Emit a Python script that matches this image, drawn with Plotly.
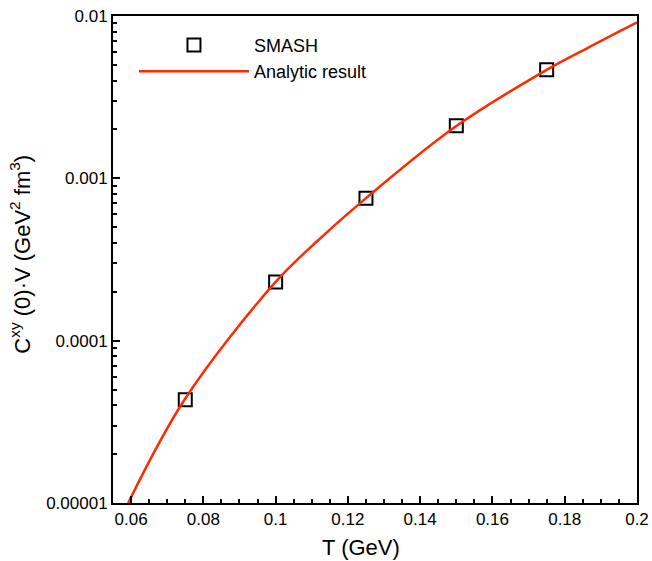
import plotly.graph_objects as go

# SMASH data
smash_T = [0.075, 0.1, 0.125, 0.15, 0.175]
smash_C = [4.32e-5, 2.30e-4, 7.55e-4, 2.11e-3, 4.66e-3]

# Analytic result curve
curve_T = [0.0592, 0.075, 0.1, 0.1114, 0.125, 0.15, 0.175, 0.1864, 0.2]
curve_C = [1.0e-5, 4.40e-5, 2.30e-4, 4.08e-4, 7.55e-4, 2.10e-3, 4.66e-3, 6.37e-3, 9.14e-3]

# Tick labels
x_ticks = [0.06, 0.08, 0.1, 0.12, 0.14, 0.16, 0.18, 0.2]
x_ticktext = ["0.06", "0.08", "0.1", "0.12", "0.14", "0.16", "0.18", "0.2"]
y_ticks = [1e-5, 1e-4, 1e-3, 1e-2]
y_ticktext = ["0.00001", "0.0001", "0.001", "0.01"]

x_title = "T (GeV)"
y_title = "C<sup>xy</sup> (0)·V (GeV<sup>2</sup> fm<sup>3</sup>)"

FONT = "Liberation Sans, Arial, Helvetica, sans-serif"

fig = go.Figure()
fig.add_trace(go.Scatter(
    x=smash_T, y=smash_C, mode="markers", name="SMASH",
    marker=dict(symbol="square-open", size=13, color="black", line=dict(width=2, color="black")),
))
fig.add_trace(go.Scatter(
    x=curve_T, y=curve_C, mode="lines", name="Analytic result",
    line=dict(color="#ff2a00", width=2.5, shape="spline", smoothing=1.0),
))

fig.update_layout(
    width=652, height=561,
    margin=dict(l=113, r=15, t=16, b=58),
    paper_bgcolor="white", plot_bgcolor="white",
    font=dict(family=FONT, size=17, color="black"),
    showlegend=True,
    legend=dict(
        x=0.04, y=0.978, xanchor="left", yanchor="top",
        bgcolor="rgba(0,0,0,0)", borderwidth=0,
        font=dict(family=FONT, size=18, color="black"),
        itemwidth=110,
    ),
    xaxis=dict(
        range=[0.055, 0.2], automargin=False,
        tickmode="array", tickvals=x_ticks, ticktext=x_ticktext,
        ticks="inside", ticklen=7, tickwidth=2, tickcolor="black",
        minor=dict(ticks="inside", dtick=0.005, ticklen=4, tickwidth=1.5, tickcolor="black", showgrid=False),
        showline=True, linewidth=2, linecolor="black", mirror=True,
        showgrid=False, zeroline=False,
        tickfont=dict(family=FONT, size=17),
    ),
    yaxis=dict(
        type="log", range=[-5, -2], automargin=False,
        tickmode="array", tickvals=y_ticks, ticktext=y_ticktext,
        ticks="inside", ticklen=7, tickwidth=2, tickcolor="black",
        minor=dict(ticks="inside", dtick="D1", ticklen=4, tickwidth=1.5, tickcolor="black", showgrid=False),
        showline=True, linewidth=2, linecolor="black", mirror=True,
        showgrid=False, zeroline=False,
        tickfont=dict(family=FONT, size=17),
    ),
    annotations=[
        dict(text=x_title, xref="paper", yref="paper", x=0.474, y=-0.0924,
             xanchor="center", yanchor="middle", showarrow=False,
             font=dict(family=FONT, size=22, color="black")),
        dict(text=y_title, xref="paper", yref="paper", x=-0.1775, y=0.512,
             xanchor="center", yanchor="middle", showarrow=False, textangle=-90,
             font=dict(family=FONT, size=22, color="black")),
    ],
)

fig.write_html("out.html", config={"displayModeBar": False},
               post_script="document.body.style.margin='0';document.body.style.padding='0';")
